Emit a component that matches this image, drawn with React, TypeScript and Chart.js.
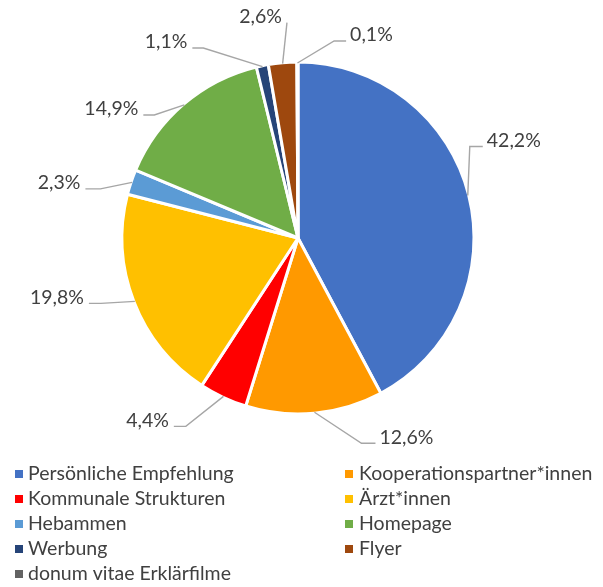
import React, { useEffect, useRef } from "react";
import { Chart, registerables } from "chart.js";

Chart.register(...registerables);

// ---- data ----
const categories = [
  "Persönliche Empfehlung",
  "Kooperationspartner*innen",
  "Kommunale Strukturen",
  "Ärzt*innen",
  "Hebammen",
  "Homepage",
  "Werbung",
  "Flyer",
  "donum vitae Erklärfilme",
];
const shares = [42.2, 12.6, 4.4, 19.8, 2.3, 14.9, 1.1, 2.6, 0.1];
const valueLabels = shares.map((v) => v.toFixed(1).replace(".", ",") + "%");

// ---- styles ----
const sliceColors = [
  "#4472C4",
  "#FF9900",
  "#FF0000",
  "#FFC000",
  "#5B9BD5",
  "#70AD47",
  "#264478",
  "#9E480E",
  "#636363",
];
// label centre offset (px) from the slice's outer mid point, and leader elbow length
const labelOffsets: [number, number][] = [
  [46, -55],
  [92, 25],
  [-76, 24],
  [-78, -4],
  [-73, 0.5],
  [-73, 4],
  [-96.5, -24.6],
  [-22, -47],
  [74, -28],
];
const elbowLengths = [13, 14, 12, 12, 15, 11, 11, 0, 12];

const TEXT_COLOR = "#404040";
const LEADER_COLOR = "#A6A6A6";
const LABEL_FONT = "19.5px Lato";
const LEGEND_FONT = "19.5px Lato";

const labelPlugin = {
  id: "excelLabels",
  afterDraw(chart: any) {
    const ctx = chart.ctx;
    const meta = chart.getDatasetMeta(0);
    ctx.save();
    ctx.font = LABEL_FONT;
    ctx.textBaseline = "middle";
    ctx.textAlign = "center";
    meta.data.forEach((arc: any, i: number) => {
      const { x, y, startAngle, endAngle, outerRadius } = arc.getProps(
        ["x", "y", "startAngle", "endAngle", "outerRadius"],
        true
      );
      const mid = (startAngle + endAngle) / 2;
      const r = outerRadius - 1;
      const px = x + Math.cos(mid) * r;
      const py = y + Math.sin(mid) * r;
      const [dx, dy] = labelOffsets[i];
      const tx = px + dx;
      const ty = py + dy;
      const text = valueLabels[i];
      const w = ctx.measureText(text).width;
      const right = tx > px;
      const endX = right ? tx - w / 2 - 4 : tx + w / 2 + 5;
      const endY = ty + 6;
      const elbowX = right ? endX - elbowLengths[i] : endX + elbowLengths[i];
      ctx.strokeStyle = LEADER_COLOR;
      ctx.lineWidth = 1.4;
      ctx.beginPath();
      ctx.moveTo(endX, endY);
      ctx.lineTo(elbowX, endY);
      ctx.lineTo(px, py);
      ctx.stroke();
      ctx.fillStyle = TEXT_COLOR;
      ctx.fillText(text, tx, ty);
    });

    // legend: two columns, row-major
    ctx.font = LEGEND_FONT;
    ctx.textAlign = "left";
    const colMarkerX = [15, 345];
    const colTextX = [28, 359];
    categories.forEach((name, i) => {
      const row = Math.floor(i / 2);
      const col = i % 2;
      const cy = 474 + row * 25;
      ctx.fillStyle = sliceColors[i];
      ctx.fillRect(colMarkerX[col], cy - 4, 8, 8);
      ctx.fillStyle = TEXT_COLOR;
      ctx.fillText(name, colTextX[col], cy);
    });
    ctx.restore();
  },
};

export default function App() {
  const ref = useRef<HTMLCanvasElement>(null);
  useEffect(() => {
    document.body.style.margin = "0";
    const chart = new Chart(ref.current!, {
      type: "pie",
      data: {
        labels: categories,
        datasets: [
          {
            data: shares,
            backgroundColor: sliceColors,
            borderColor: "#FFFFFF",
            borderWidth: 3,
            radius: 176,
          } as any,
        ],
      },
      options: {
        responsive: false,
        animation: false,
        layout: { padding: { left: 0, right: 7, top: 0, bottom: 111 } },
        plugins: {
          legend: { display: false },
          tooltip: { enabled: false },
        },
      },
      plugins: [labelPlugin],
    });
    return () => chart.destroy();
  }, []);
  return (
    <canvas
      ref={ref}
      width={603}
      height={587}
      style={{ display: "block", width: 603, height: 587 }}
    />
  );
}
